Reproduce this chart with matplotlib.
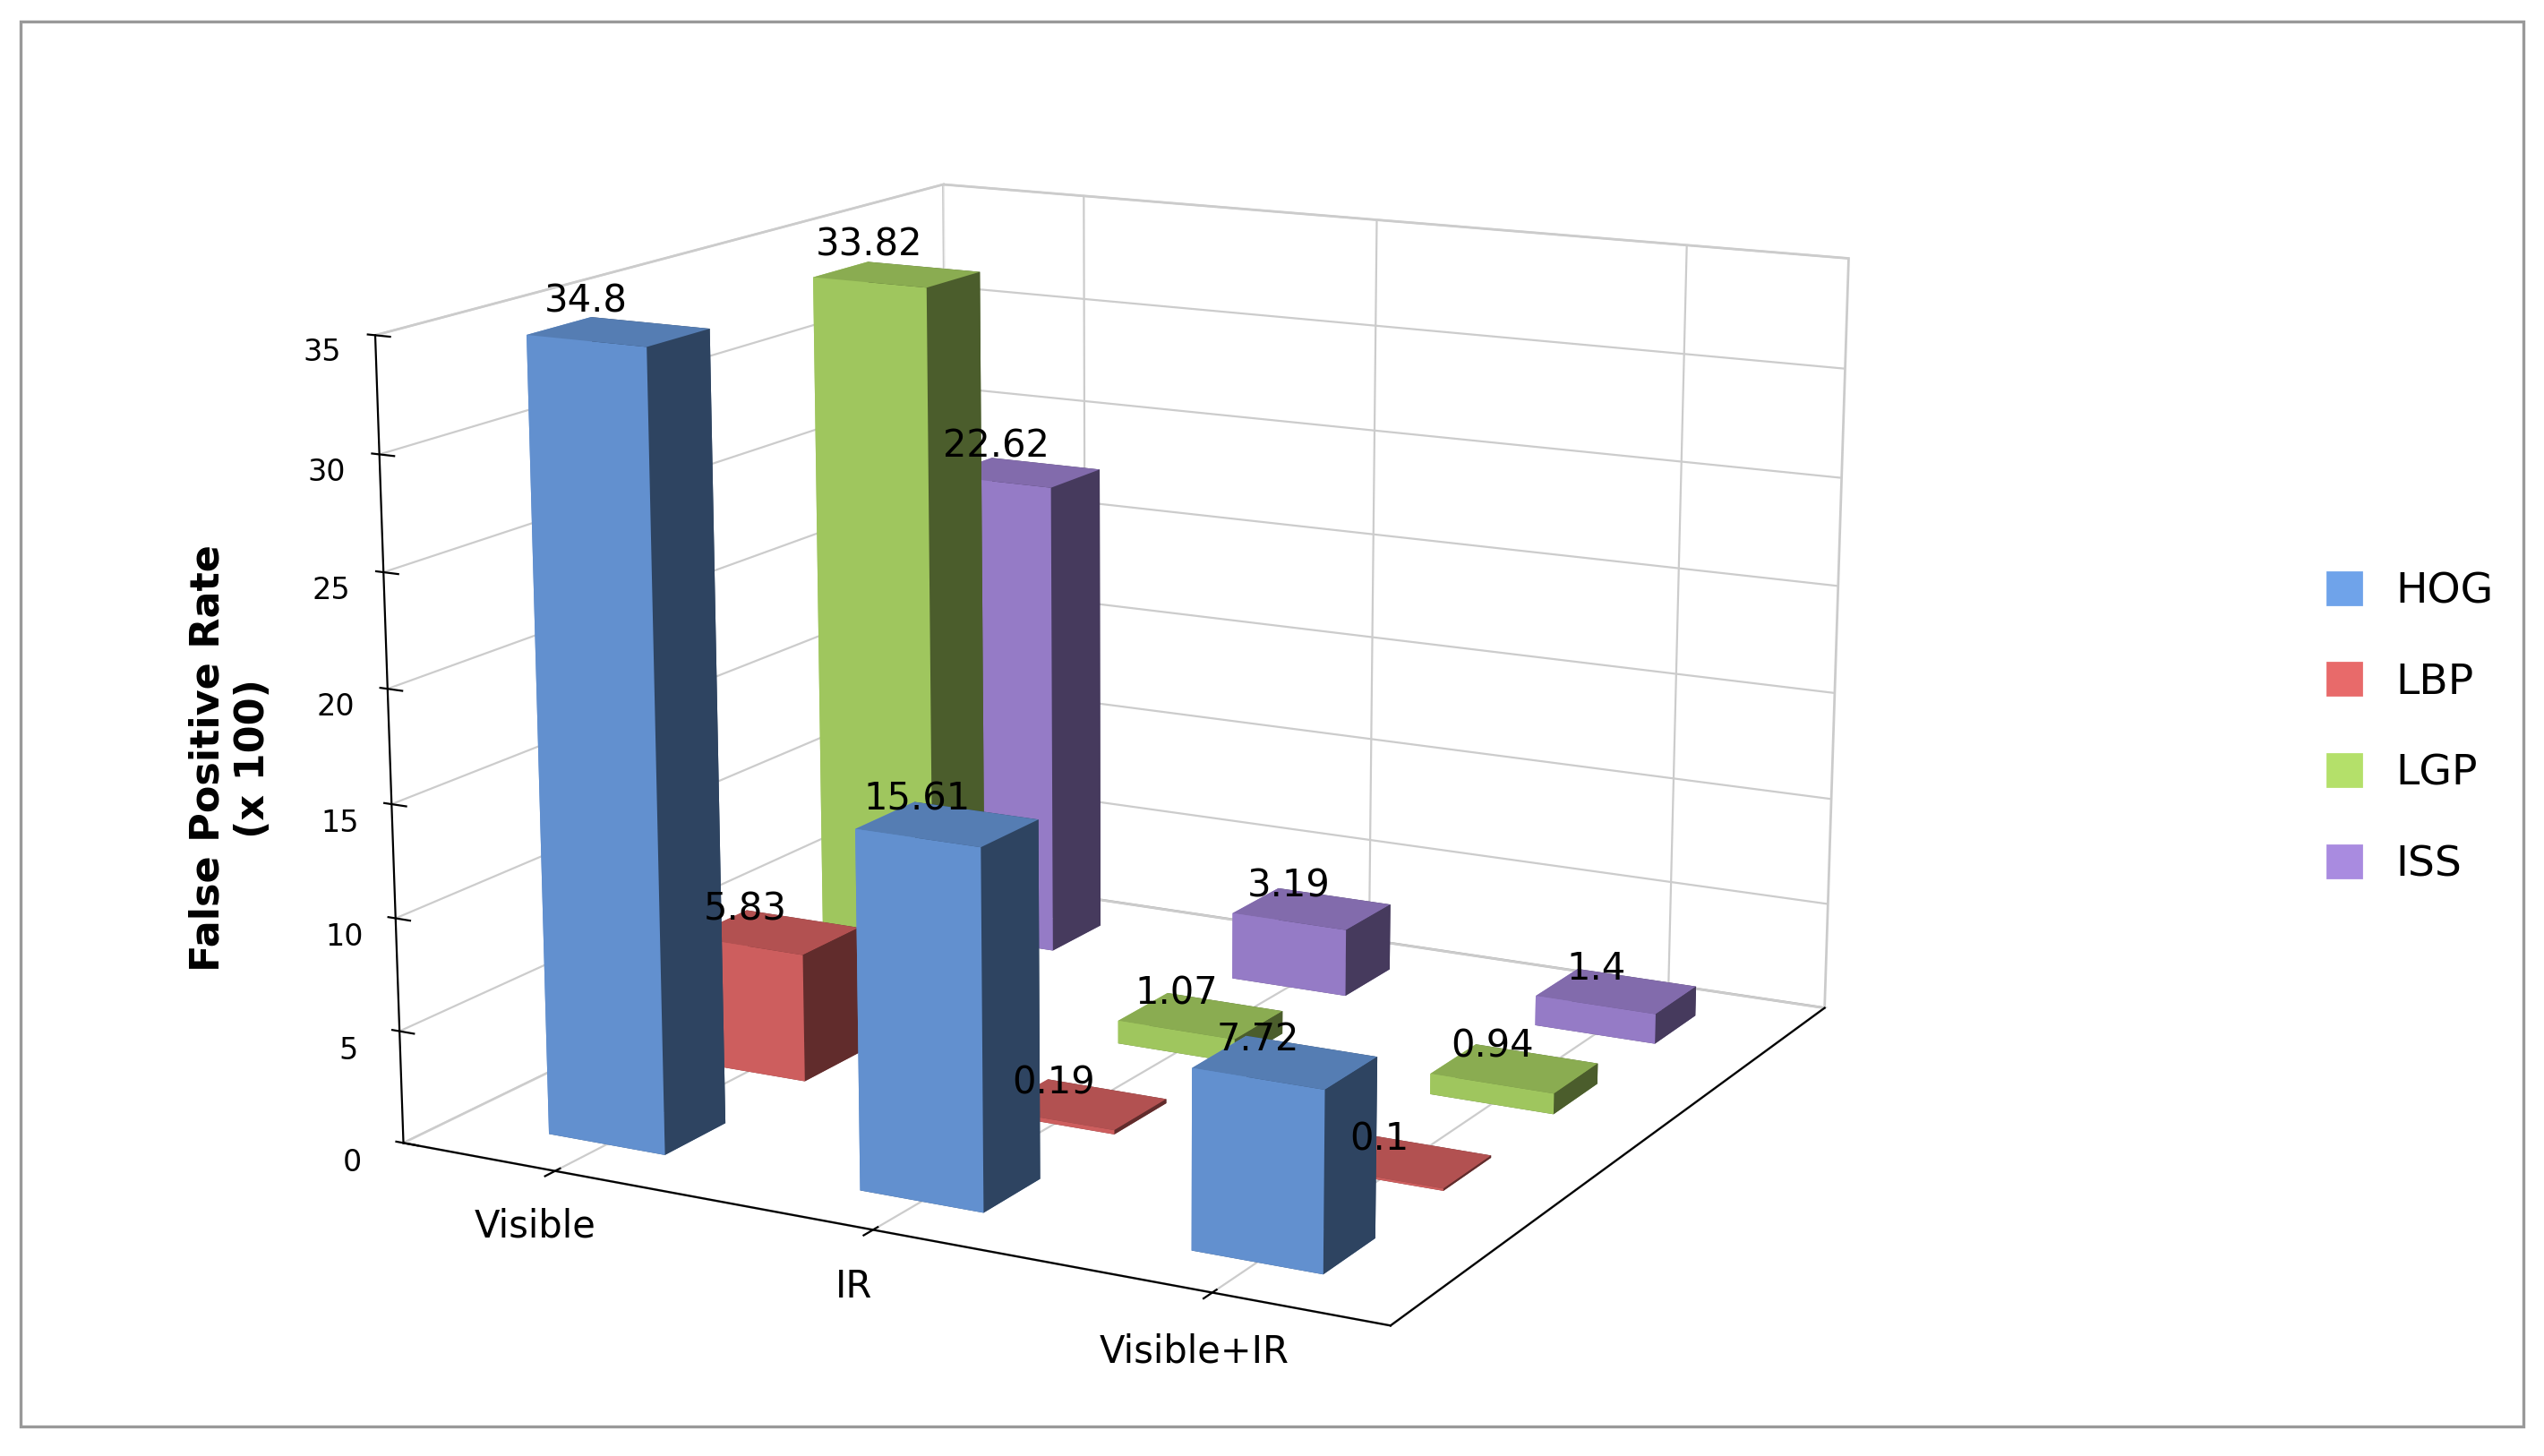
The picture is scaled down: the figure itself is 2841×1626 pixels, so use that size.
import matplotlib.pyplot as plt
import numpy as np
from matplotlib.patches import Patch, Rectangle

categories = ['Visible', 'IR', 'Visible+IR']
series = ['HOG', 'LBP', 'LGP', 'ISS']
hog = [34.8, 15.61, 7.72]
lbp = [5.83, 0.19, 0.1]
lgp = [33.82, 1.07, 0.94]
iss = [22.62, 3.19, 1.4]
values = [hog, lbp, lgp, iss]
colors = ['#6fa3ea', '#e86a6a', '#b4e06a', '#a98be0']

fig = plt.figure(figsize=(14.205, 8.13), dpi=200)
ax = fig.add_axes([0.02, -0.06, 0.84, 1.14], projection='3d')
ax.set_proj_type('persp', focal_length=0.6)
ax.computed_zorder = False

w, d = 0.38, 0.38
# draw back rows first so front bars cover them
for j in reversed(range(len(series))):
    vals, col = values[j], colors[j]
    for i in reversed(range(len(vals))):
        v = vals[i]
        ax.bar3d(i - w / 2, j * 0.9 - d / 2, 0, w, d, v, color=col,
                 shade=True, edgecolor='none', zorder=10 + (4 - j) * 3 + (3 - i))
for j, vals in enumerate(values):
    for i, v in enumerate(vals):
        ax.text(i, j * 0.9 - d / 2, v + 1.2, f'{v:g}', fontsize=15,
                ha='center', zorder=100)

ax.set_xlim(-0.5, 2.5)
ax.set_ylim(-0.5, 3.2)
ax.set_zlim(0, 35)
ax.set_xticks(range(3))
ax.set_xticklabels(categories, fontsize=15)
ax.set_yticks([])
ax.set_zticks(range(0, 36, 5))
ax.tick_params(axis='z', labelsize=12)
ax.zaxis._axinfo['juggled'] = (1, 2, 0)
ax.zaxis.set_rotate_label(False)
ax.set_zlabel('False Positive Rate\n(x 100)', fontsize=16, fontweight='bold',
              labelpad=14, rotation=90)
for pane in (ax.xaxis.pane, ax.yaxis.pane, ax.zaxis.pane):
    pane.set_facecolor('white')
    pane.set_edgecolor('#999999')
ax.grid(True)
for a in (ax.xaxis, ax.yaxis, ax.zaxis):
    a._axinfo['grid']['color'] = '#cccccc'
    a._axinfo['grid']['linewidth'] = 0.8
ax.view_init(elev=14, azim=-62)

handles = [Patch(color=c, label=s) for s, c in zip(series, colors)]
fig.legend(handles=handles, loc='center left', bbox_to_anchor=(0.9, 0.5),
           frameon=False, fontsize=17, handlelength=0.8, handleheight=0.8,
           labelspacing=1.2)
fig.patches.append(Rectangle((0.008, 0.02), 0.984, 0.965, transform=fig.transFigure,
                             fill=False, edgecolor='#999999', linewidth=1.2))
fig.savefig('out.png', dpi=200)
